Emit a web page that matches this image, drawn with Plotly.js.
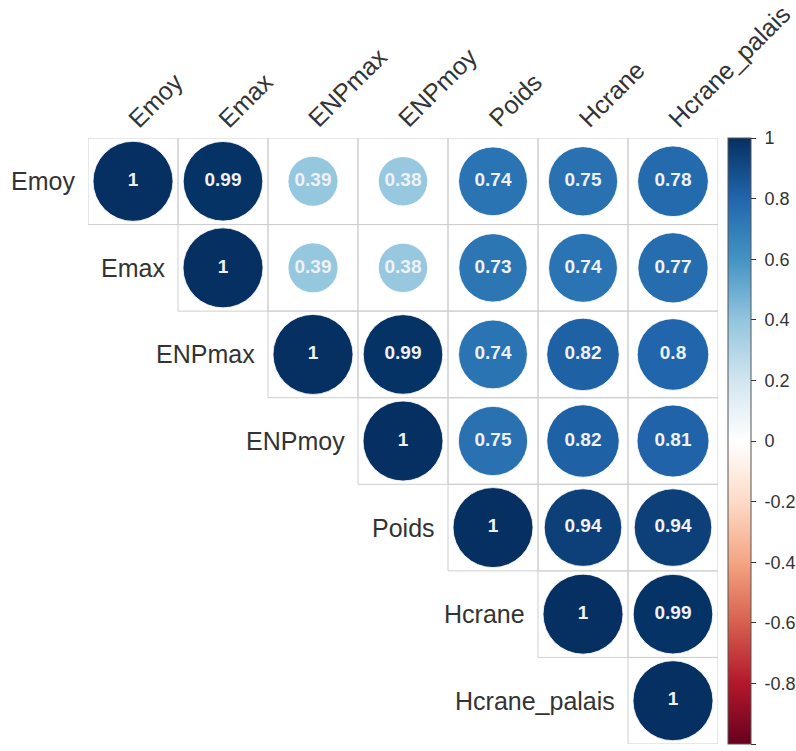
<!DOCTYPE html>
<html>
<head>
<meta charset="utf-8">
<script src="https://cdn.plot.ly/plotly-3.0.1.min.js"></script>
<style>html,body{margin:0;padding:0;background:#fff;}#chart{width:796px;height:751px;}</style>
</head>
<body>
<div id="chart"></div>
<script>
// Variables (rows top to bottom, columns left to right)
const variables = ["Emoy", "Emax", "ENPmax", "ENPmoy", "Poids", "Hcrane", "Hcrane_palais"];
// Upper-triangle correlations, one array per row, starting at the diagonal
const rowEmoy = [1, 0.99, 0.39, 0.38, 0.74, 0.75, 0.78];
const rowEmax = [1, 0.39, 0.38, 0.73, 0.74, 0.77];
const rowENPmax = [1, 0.99, 0.74, 0.82, 0.8];
const rowENPmoy = [1, 0.75, 0.82, 0.81];
const rowPoids = [1, 0.94, 0.94];
const rowHcrane = [1, 0.99];
const rowHcranePalais = [1];
const colorbarTicks = [1, 0.8, 0.6, 0.4, 0.2, 0, -0.2, -0.4, -0.6, -0.8, -1];
const rdbu = ["#67001F","#B2182B","#D6604D","#F4A582","#FDDBC7","#FFFFFF","#D1E5F0","#92C5DE","#4393C3","#2166AC","#053061"];

const rows = [rowEmoy, rowEmax, rowENPmax, rowENPmoy, rowPoids, rowHcrane, rowHcranePalais];
const n = variables.length;
const maxDiam = 80;

const xs = [], ys = [], vals = [], sizes = [], texts = [];
rows.forEach((r, i) => {
  r.forEach((v, k) => {
    const j = i + k;
    xs.push(j + 1);
    ys.push(i + 1);
    vals.push(v);
    sizes.push(maxDiam * Math.sqrt(Math.abs(v)));
    texts.push(String(v));
  });
});

const colorscale = rdbu.map((c, i) => [i / (rdbu.length - 1), c]);

const trace = {
  type: "scatter",
  mode: "markers+text",
  x: xs, y: ys,
  text: texts,
  textposition: "middle center",
  textfont: {family: "Liberation Sans, Arial, sans-serif", size: 19, color: "#eef2f7", weight: "bold"},
  hoverinfo: "skip",
  cliponaxis: false,
  marker: {
    size: sizes,
    sizemode: "diameter",
    color: vals,
    cmin: -1, cmax: 1,
    colorscale: colorscale,
    line: {color: "rgba(255,255,255,0.8)", width: 1},
    opacity: 1,
    showscale: true,
    colorbar: {
      x: (728 - 88) / 630, xanchor: "left", xpad: 0,
      y: 0.5, yanchor: "middle", ypad: 0,
      len: 1, lenmode: "fraction",
      thickness: 23,
      outlinewidth: 1, outlinecolor: "#555",
      tickmode: "array",
      tickvals: colorbarTicks,
      ticktext: colorbarTicks.map(v => "\u00a0" + String(v)),
      ticks: "outside", ticklen: 5, tickcolor: "#333", tickwidth: 1,
      tickfont: {family: "Liberation Sans, Arial, sans-serif", size: 18, color: "#333"}
    }
  }
};

const shapes = [];
for (let i = 0; i < n; i++) {
  for (let j = i; j < n; j++) {
    shapes.push({
      type: "rect", xref: "x", yref: "y", layer: "below",
      x0: j + 0.5, x1: j + 1.5, y0: i + 0.5, y1: i + 1.5,
      line: {color: "#cfcfcf", width: 1}, fillcolor: "rgba(0,0,0,0)"
    });
  }
}

const labelFont = {family: "Liberation Sans, Arial, sans-serif", size: 25, color: "#333"};
const annotations = [];
variables.forEach((name, i) => {
  // row label, left of the diagonal cell
  annotations.push({
    xref: "x", yref: "y", x: i + 0.5, y: i + 1,
    text: name, showarrow: false, xanchor: "right", yanchor: "middle",
    xshift: -11, font: labelFont
  });
  // column label, rotated above the column
  annotations.push({
    xref: "x", yref: "paper", x: i + 1, y: 1,
    text: name, showarrow: false, textangle: -45,
    xanchor: "left", yanchor: "bottom",
    xshift: -13, yshift: 3, font: labelFont
  });
});

const layout = {
  width: 796, height: 751,
  margin: {l: 88, r: 78, t: 138, b: 7, autoexpand: false},
  paper_bgcolor: "#ffffff", plot_bgcolor: "#ffffff",
  showlegend: false,
  xaxis: {range: [0.5, n + 0.5], showgrid: false, zeroline: false, showticklabels: false, ticks: "", showline: false, fixedrange: true},
  yaxis: {range: [n + 0.5, 0.5], showgrid: false, zeroline: false, showticklabels: false, ticks: "", showline: false, fixedrange: true},
  shapes: shapes,
  annotations: annotations
};

Plotly.newPlot("chart", [trace], layout, {displayModeBar: false, staticPlot: true});
</script>
</body>
</html>
